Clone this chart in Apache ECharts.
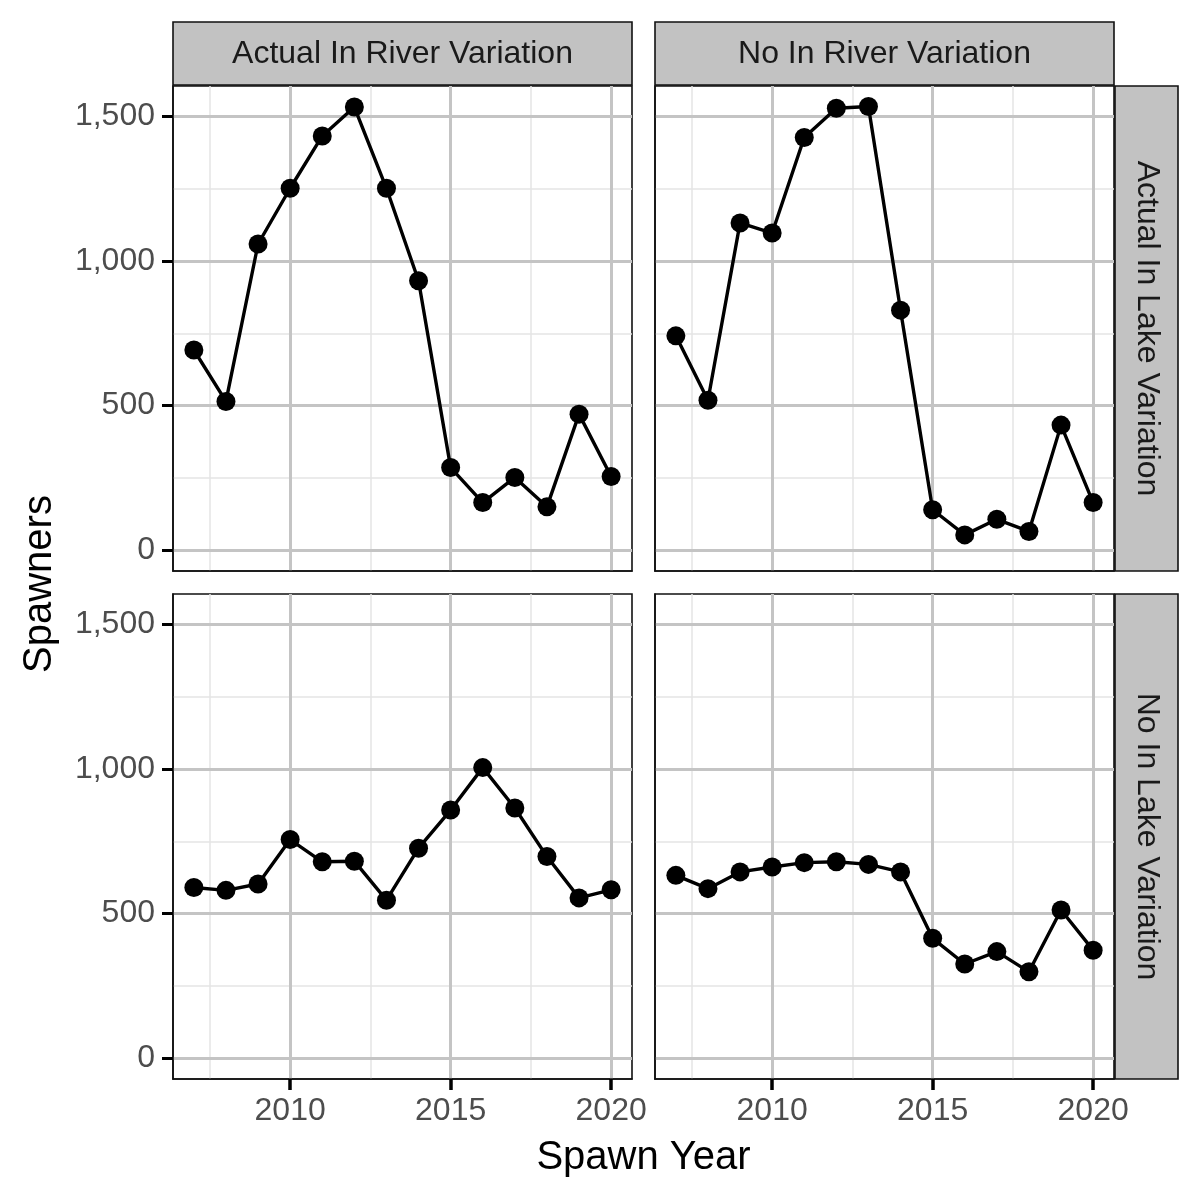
<!DOCTYPE html>
<html>
<head>
<meta charset="utf-8">
<script src="https://cdn.jsdelivr.net/npm/echarts@6/dist/echarts.min.js"></script>
<style>html,body{margin:0;padding:0;background:#fff}#chart{width:1200px;height:1200px}</style>
</head>
<body>
<div id="chart"></div>
<script>
// ---------- data ----------
const years = [2007, 2008, 2009, 2010, 2011, 2012, 2013, 2014, 2015, 2016, 2017, 2018, 2019, 2020];
const colFacets = ['Actual In River Variation', 'No In River Variation'];
const rowFacets = ['Actual In Lake Variation', 'No In Lake Variation'];
// row: Actual In Lake Variation
const lakeActualRiverActual = [692, 514, 1059, 1252, 1433, 1533, 1252, 932, 285, 164, 251, 149, 470, 254];
const lakeActualRiverNone   = [741, 518, 1132, 1097, 1428, 1529, 1535, 830, 139, 52, 106, 64, 432, 164];
// row: No In Lake Variation
const lakeNoneRiverActual   = [590, 580, 602, 756, 679, 681, 546, 726, 858, 1005, 865, 697, 554, 582];
const lakeNoneRiverNone     = [632, 586, 644, 661, 676, 679, 670, 644, 414, 325, 368, 298, 512, 373];
const xTicks = [2010, 2015, 2020];
const xMinorTicks = [2007.5, 2012.5, 2017.5];
const yTicks = [0, 500, 1000, 1500];
const yMinorTicks = [250, 750, 1250];
const xTitle = 'Spawn Year';
const yTitle = 'Spawners';

// ---------- layout / style ----------
const FONT = "'Liberation Sans', Arial, Helvetica, sans-serif";
const X_MIN = 2006.35, X_MAX = 2020.65;
const Y_MIN = -73, Y_MAX = 1606;
const PW = 459, PH = 485;
const panels = [
  { left: 173, top: 86, row: 0, col: 0, data: lakeActualRiverActual },
  { left: 655, top: 86, row: 0, col: 1, data: lakeActualRiverNone },
  { left: 173, top: 594, row: 1, col: 0, data: lakeNoneRiverActual },
  { left: 655, top: 594, row: 1, col: 1, data: lakeNoneRiverNone }
];
const MAJOR = '#c4c4c4', MINOR = '#e4e4e4';
const BORDER = '#111';

const grids = [], xAxes = [], yAxes = [], series = [];
panels.forEach((p, i) => {
  grids.push({ left: p.left, top: p.top, width: PW, height: PH, show: true,
    borderColor: BORDER, borderWidth: 1.6, backgroundColor: '#ffffff', containLabel: false });
});
panels.forEach((p, i) => {
  const bottom = p.row === 1, leftCol = p.col === 0;
  xAxes.push({ type: 'value', gridIndex: i, min: X_MIN, max: X_MAX, position: 'bottom',
    axisLine: { show: true, onZero: false, lineStyle: { color: BORDER, width: 1.6 } },
    axisTick: { show: bottom, inside: false, length: 11, customValues: xTicks, lineStyle: { color: '#000', width: 3.5 } },
    axisLabel: { show: bottom, customValues: xTicks, margin: 16, color: '#4d4d4d', fontSize: 32, fontFamily: FONT,
      formatter: v => String(Math.round(v)) },
    splitLine: { show: true, lineStyle: { color: MAJOR, width: 3 } }, z: 3 });
  yAxes.push({ type: 'value', gridIndex: i, min: Y_MIN, max: Y_MAX, position: 'left',
    axisLine: { show: true, onZero: false, lineStyle: { color: BORDER, width: 1.6 } },
    axisTick: { show: leftCol, inside: false, length: 11, customValues: yTicks, lineStyle: { color: '#000', width: 3 } },
    axisLabel: { show: leftCol, customValues: yTicks, margin: 18, color: '#4d4d4d', fontSize: 32, fontFamily: FONT,
      formatter: v => Number(v).toLocaleString('en-US') },
    splitLine: { show: true, lineStyle: { color: MAJOR, width: 3 } }, z: 3 });
});
panels.forEach((p, i) => {
  xAxes.push({ type: 'value', gridIndex: i, min: X_MIN, max: X_MAX, position: 'top',
    axisLine: { show: false, onZero: false }, axisTick: { show: false, customValues: xMinorTicks },
    axisLabel: { show: false, customValues: xMinorTicks },
    splitLine: { show: true, lineStyle: { color: MINOR, width: 1.5 } }, z: 1 });
  yAxes.push({ type: 'value', gridIndex: i, min: Y_MIN, max: Y_MAX, position: 'right',
    axisLine: { show: false, onZero: false }, axisTick: { show: false, customValues: yMinorTicks },
    axisLabel: { show: false, customValues: yMinorTicks },
    splitLine: { show: true, lineStyle: { color: MINOR, width: 1.5 } }, z: 1 });
});
panels.forEach((p, i) => {
  series.push({ type: 'line', name: colFacets[p.col] + ' / ' + rowFacets[p.row],
    xAxisIndex: i, yAxisIndex: i,
    data: years.map((y, k) => [y, p.data[k]]),
    symbol: 'circle', symbolSize: 19, showSymbol: true,
    lineStyle: { color: '#000', width: 3.4 }, itemStyle: { color: '#000' },
    animation: false, z: 5 });
});

const graphic = [];
// column strips
[0, 1].forEach(c => {
  const left = panels[c].left;
  graphic.push({ type: 'rect', x: left, y: 22, shape: { x: 0, y: 0, width: PW, height: 63 },
    style: { fill: '#c2c2c2', stroke: BORDER, lineWidth: 1.6 }, z: 10 });
  graphic.push({ type: 'text', x: left + PW / 2, y: 54,
    style: { text: colFacets[c], fill: '#1a1a1a', font: '32px ' + FONT,
      align: 'center', verticalAlign: 'middle', textAlign: 'center', textVerticalAlign: 'middle' }, z: 11 });
});
// row strips
[0, 1].forEach(r => {
  const top = panels[r * 2].top;
  graphic.push({ type: 'rect', x: 1115, y: top, shape: { x: 0, y: 0, width: 63, height: PH },
    style: { fill: '#c2c2c2', stroke: BORDER, lineWidth: 1.6 }, z: 10 });
  graphic.push({ type: 'text', x: 1115 + 31.5, y: top + PH / 2, rotation: -Math.PI / 2,
    style: { text: rowFacets[r], fill: '#1a1a1a', font: '32px ' + FONT,
      align: 'center', verticalAlign: 'middle', textAlign: 'center', textVerticalAlign: 'middle' }, z: 11 });
});
// axis titles
graphic.push({ type: 'text', x: 643.5, y: 1158,
  style: { text: xTitle, fill: '#000', font: '40px ' + FONT,
    align: 'center', verticalAlign: 'middle', textAlign: 'center', textVerticalAlign: 'middle' }, z: 11 });
graphic.push({ type: 'text', x: 40, y: 584, rotation: Math.PI / 2,
  style: { text: yTitle, fill: '#000', font: '40px ' + FONT,
    align: 'center', verticalAlign: 'middle', textAlign: 'center', textVerticalAlign: 'middle' }, z: 11 });

const chart = echarts.init(document.getElementById('chart'), null, { renderer: 'canvas' });
chart.setOption({
  animation: false,
  backgroundColor: '#ffffff',
  grid: grids,
  xAxis: xAxes,
  yAxis: yAxes,
  series: series,
  graphic: { elements: graphic }
});
</script>
</body>
</html>
